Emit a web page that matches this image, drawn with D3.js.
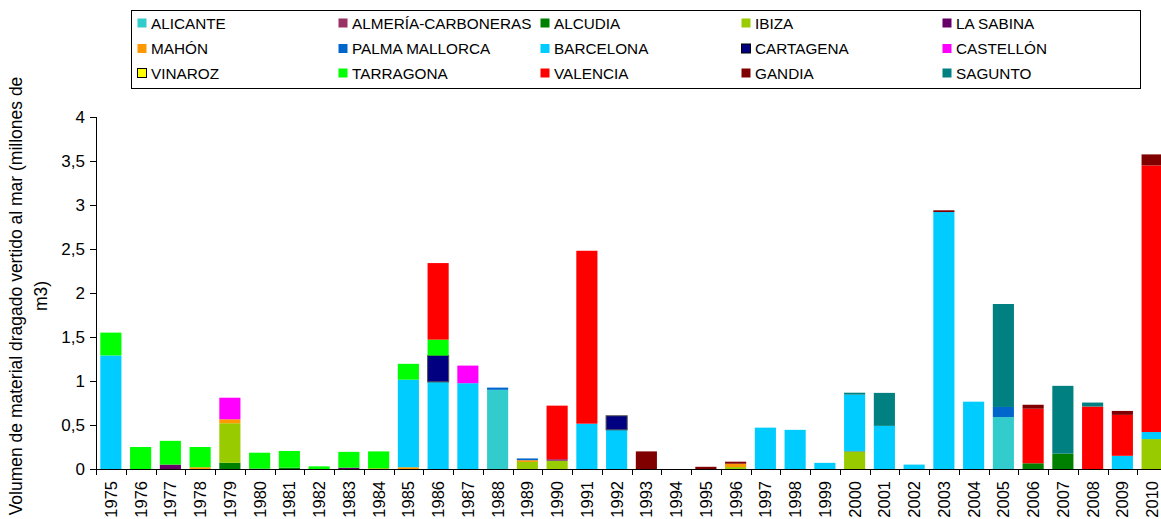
<!DOCTYPE html>
<html>
<head>
<meta charset="utf-8">
<script src="https://cdn.jsdelivr.net/npm/d3@7"></script>
<style>
  body { margin: 0; background: #fff; }
  svg text { font-family: Arial, "Liberation Sans", sans-serif; fill: #000; }
</style>
</head>
<body>
<div id="chart"></div>
<script>
// categories
const years = ["1975","1976","1977","1978","1979","1980","1981","1982","1983","1984",
               "1985","1986","1987","1988","1989","1990","1991","1992","1993","1994",
               "1995","1996","1997","1998","1999","2000","2001","2002","2003","2004",
               "2005","2006","2007","2008","2009","2010"]

// series values (millones de m3), one per year
const alicante  = [0,0,0,0,0, 0,0,0,0,0, 0,0,0,0.90,0, 0,0,0,0,0, 0,0,0,0,0, 0,0,0,0,0, 0.59,0,0,0,0, 0]
const almeria   = [0,0,0,0,0, 0,0,0,0,0, 0,0,0,0,0, 0,0,0,0,0, 0,0,0,0,0, 0,0,0,0,0, 0,0,0,0,0, 0]
const alcudia   = [0,0,0,0,0.07, 0.005,0.015,0,0,0, 0,0,0,0,0, 0,0,0,0,0, 0,0,0,0,0, 0,0,0,0,0, 0,0.065,0.175,0,0, 0]
const ibiza     = [0,0,0,0,0.45, 0,0,0,0,0.01, 0,0,0,0,0.08, 0.095,0,0,0,0, 0,0.022,0,0,0, 0.20,0,0,0,0, 0,0,0,0,0, 0.34]
const laSabina  = [0,0,0.05,0,0, 0,0,0,0.015,0, 0,0,0,0,0, 0.015,0,0,0,0, 0,0,0,0,0, 0,0,0,0,0, 0,0,0,0,0, 0]
const mahon     = [0,0,0,0.02,0.045, 0,0,0,0,0, 0.02,0,0,0,0.02, 0,0,0,0,0, 0,0.038,0,0,0, 0,0,0,0,0, 0,0,0,0,0, 0]
const palma     = [0,0,0,0,0, 0,0,0,0,0, 0,0,0,0.025,0.02, 0,0,0,0,0, 0,0,0,0,0, 0.005,0,0,0,0, 0.115,0,0,0,0, 0]
const barcelona = [1.29,0,0,0,0, 0,0,0,0,0, 0.995,0.99,0.975,0,0, 0,0.515,0.445,0,0, 0,0,0.47,0.445,0.07, 0.64,0.49,0.05,2.92,0.765, 0,0,0,0,0.15, 0.08]
const cartagena = [0,0,0,0,0, 0,0,0,0,0, 0,0.30,0,0,0, 0,0,0.16,0,0, 0,0,0,0,0, 0,0,0,0,0, 0,0,0,0,0, 0]
const castellon = [0,0,0,0,0.245, 0,0,0,0,0, 0,0,0.20,0,0, 0,0,0,0,0, 0,0,0,0,0, 0,0,0,0,0, 0,0,0,0,0, 0]
const vinaroz   = [0,0,0,0,0, 0,0,0,0,0, 0,0,0,0,0, 0,0,0,0,0, 0,0,0,0,0, 0,0,0,0,0, 0,0,0,0,0, 0]
const tarragona = [0.26,0.25,0.27,0.23,0, 0.18,0.19,0.03,0.18,0.19, 0.18,0.18,0,0,0, 0,0,0,0,0, 0,0,0,0,0, 0,0,0,0,0, 0,0,0,0,0, 0]
const valencia  = [0,0,0,0,0, 0,0,0,0,0, 0,0.87,0,0,0, 0.61,1.965,0,0,0, 0,0,0,0,0, 0,0,0,0,0, 0,0.62,0,0.71,0.465, 3.03]
const gandia    = [0,0,0,0,0, 0,0,0,0,0, 0,0,0,0,0, 0,0,0,0.20,0, 0.025,0.023,0,0,0, 0,0,0,0.02,0, 0,0.045,0,0,0.045, 0.125]
const sagunto   = [0,0,0,0,0, 0,0,0,0,0, 0,0,0,0,0, 0,0,0,0,0, 0,0,0,0,0, 0.022,0.375,0,0,0, 1.17,0,0.77,0.045,0, 0]

const seriesNames = ["ALICANTE","ALMERÍA-CARBONERAS","ALCUDIA","IBIZA","LA SABINA",
                     "MAHÓN","PALMA MALLORCA","BARCELONA","CARTAGENA","CASTELLÓN",
                     "VINAROZ","TARRAGONA","VALENCIA","GANDIA","SAGUNTO"]
const seriesValues = [alicante, almeria, alcudia, ibiza, laSabina,
                      mahon, palma, barcelona, cartagena, castellon,
                      vinaroz, tarragona, valencia, gandia, sagunto]
const seriesColors = ["#33CCCC","#993366","#008000","#99CC00","#660066",
                      "#FF9900","#0066CC","#00CCFF","#000080","#FF00FF",
                      "#FFFF00","#00FF00","#FF0000","#800000","#008080"]
const yTicks = [0, 0.5, 1, 1.5, 2, 2.5, 3, 3.5, 4]

const width = 1161, height = 519
const plot = {left: 96, right: 1167, top: 117, bottom: 469}

const svg = d3.select("#chart").append("svg")
    .attr("width", width)
    .attr("height", height)

svg.append("rect").attr("width", width).attr("height", height).attr("fill", "#fff")

// build table for the stack
let table = years.map((y, i) => {
    let row = {year: y}
    seriesNames.forEach((n, j) => row[n] = seriesValues[j][i])
    return row
})
let stacked = d3.stack().keys(seriesNames)(table)

let x = d3.scaleBand()
    .domain(years)
    .range([plot.left, plot.right])
    .paddingInner(0.29)
    .paddingOuter(0.145)
let y = d3.scaleLinear()
    .domain([0, 4])
    .range([plot.bottom, plot.top])
let color = d3.scaleOrdinal().domain(seriesNames).range(seriesColors)

// bars
let layer = svg.append("g")
    .selectAll("g")
    .data(stacked)
    .enter()
    .append("g")
    .attr("fill", d => color(d.key))

layer.selectAll("rect")
    .data(d => d.filter(p => p[1] - p[0] > 0).map(p => ({p: p, key: d.key})))
    .enter()
    .append("rect")
    .attr("x", d => x(d.p.data.year))
    .attr("width", x.bandwidth())
    .attr("y", d => y(d.p[1]))
    .attr("height", d => y(d.p[0]) - y(d.p[1]))
    .attr("stroke", d => d.key === "CARTAGENA" ? "#555" : "none")
    .attr("stroke-width", 1)

// y axis
let comma = d3.formatLocale({decimal: ",", thousands: ".", grouping: [3], currency: ["", "€"]}).format("~g")
let yAxis = svg.append("g")
yAxis.append("line")
    .attr("x1", plot.left + 0.5).attr("x2", plot.left + 0.5)
    .attr("y1", y(4)).attr("y2", y(0))
    .attr("stroke", "#000")
yAxis.selectAll("line.tick")
    .data(yTicks)
    .enter()
    .append("line")
    .attr("class", "tick")
    .attr("x1", plot.left - 6).attr("x2", plot.left)
    .attr("y1", d => Math.round(y(d)) + 0.5).attr("y2", d => Math.round(y(d)) + 0.5)
    .attr("stroke", "#000")
yAxis.selectAll("text")
    .data(yTicks)
    .enter()
    .append("text")
    .attr("x", plot.left - 11)
    .attr("y", d => y(d))
    .attr("dy", "0.36em")
    .attr("text-anchor", "end")
    .style("font-size", "17px")
    .text(d => comma(d))

// x axis
let step = x.step()
let xAxis = svg.append("g")
xAxis.append("line")
    .attr("x1", plot.left).attr("x2", plot.right)
    .attr("y1", plot.bottom + 0.5).attr("y2", plot.bottom + 0.5)
    .attr("stroke", "#000")
xAxis.selectAll("line.tick")
    .data(years.concat(["end"]))
    .enter()
    .append("line")
    .attr("class", "tick")
    .attr("x1", (d, i) => Math.round(plot.left + i * step) + 0.5)
    .attr("x2", (d, i) => Math.round(plot.left + i * step) + 0.5)
    .attr("y1", plot.bottom).attr("y2", plot.bottom + 6)
    .attr("stroke", "#000")
xAxis.selectAll("text")
    .data(years)
    .enter()
    .append("text")
    .attr("transform", d => "translate(" + (x(d) + x.bandwidth() / 2) + "," + (plot.bottom + 12) + ") rotate(-90)")
    .attr("dy", "0.36em")
    .attr("text-anchor", "end")
    .style("font-size", "16.5px")
    .text(d => d)

// y title
let title = svg.append("text")
    .attr("transform", "translate(16,296) rotate(-90)")
    .attr("text-anchor", "middle")
    .style("font-size", "17.5px")
title.append("tspan").attr("x", 0).attr("dy", "0.36em")
    .text("Volumen de material dragado vertido al mar (millones de")
title.append("tspan").attr("x", 0).attr("dy", "1.4em").text("m3)")

// legend
let legend = svg.append("g")
legend.append("rect")
    .attr("x", 131.5).attr("y", 10.5)
    .attr("width", 1009).attr("height", 78)
    .attr("fill", "#fff")
    .attr("stroke", "#000")
let colX = [137, 338, 540, 741, 942]
let rowY = [23, 48.5, 73]
let item = legend.selectAll("g.item")
    .data(seriesNames)
    .enter()
    .append("g")
    .attr("class", "item")
    .attr("transform", (d, i) => "translate(" + colX[i % 5] + "," + rowY[Math.floor(i / 5)] + ")")
item.append("rect")
    .attr("x", 0.5).attr("y", -4.5)
    .attr("width", 9).attr("height", 9)
    .attr("fill", d => color(d))
    .attr("stroke", d => d === "VINAROZ" || d === "CARTAGENA" ? "#000" : "none")
item.append("text")
    .attr("x", 14)
    .attr("dy", "0.36em")
    .style("font-size", "15.3px")
    .text(d => d)
</script>
</body>
</html>
